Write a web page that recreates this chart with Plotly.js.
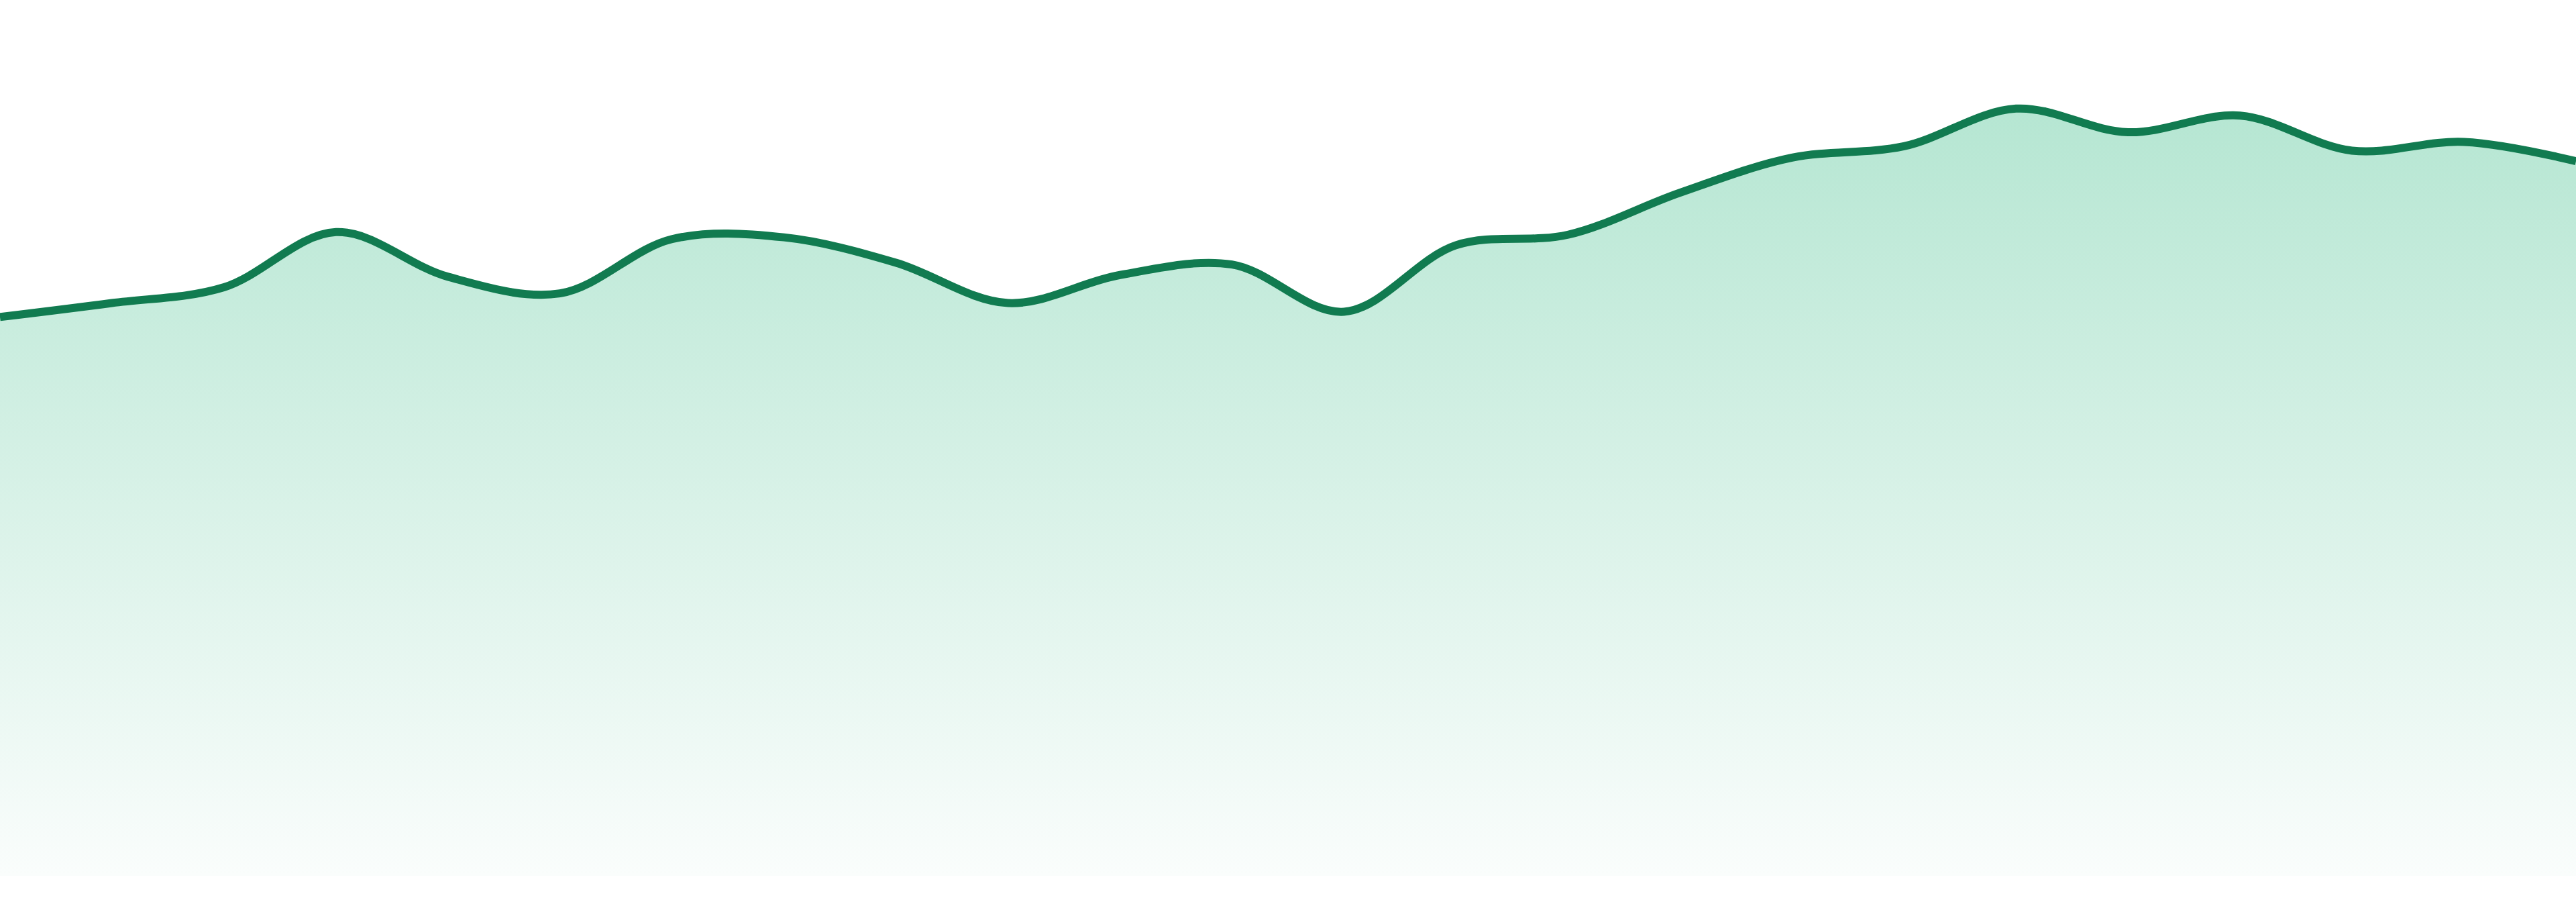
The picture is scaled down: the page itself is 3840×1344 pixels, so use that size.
<!DOCTYPE html>
<html>
<head>
<meta charset="utf-8">
<script src="https://cdn.plot.ly/plotly-3.0.1.min.js"></script>
<style>
  html, body { margin: 0; padding: 0; background: #ffffff; }
  #graph { width: 3840px; height: 1344px; }
</style>
</head>
<body>
<div id="graph"></div>
<script>
    // 24 evenly spaced samples
    const steps = [0, 1, 2, 3, 4, 5, 6, 7, 8, 9, 10, 11, 12, 13, 14, 15, 16, 17, 18, 19, 20, 21, 22, 23];

    const values = [63.8, 65.4, 67.2, 73.5, 68.4, 66.5, 72.7, 72.9, 70.0, 65.4, 68.6, 69.8,
        64.4, 72.0, 73.2, 78.0, 82.0, 83.3, 87.6, 84.9, 86.8, 82.8, 83.8, 81.6];


    let TESTER = document.getElementById('graph');

    var trace1 = {
        type: 'scatter',
        mode: 'lines',
        x: steps,
        y: values,
        line: {
            color: '#117b50',
            width: 12,
            shape: 'spline',
            smoothing: 1
        },
        fill: 'tozeroy',
        fillgradient: {
            type: 'vertical',
            start: 0,
            stop: 88,
            colorscale: [[0, '#fafdfc'], [1, '#b5e6d2']]
        },
        hoverinfo: 'skip'
    };

    var layout = {
        width: 3840,
        height: 1344,
        margin: { l: 0, r: 0, t: 0, b: 39 },
        paper_bgcolor: '#ffffff',
        plot_bgcolor: '#ffffff',
        showlegend: false,
        xaxis: { range: [0, 23], visible: false, fixedrange: true },
        yaxis: { range: [0, 100], visible: false, fixedrange: true }
    };

    Plotly.newPlot(TESTER, [trace1], layout, { staticPlot: true, displayModeBar: false });
</script>
</body>
</html>
